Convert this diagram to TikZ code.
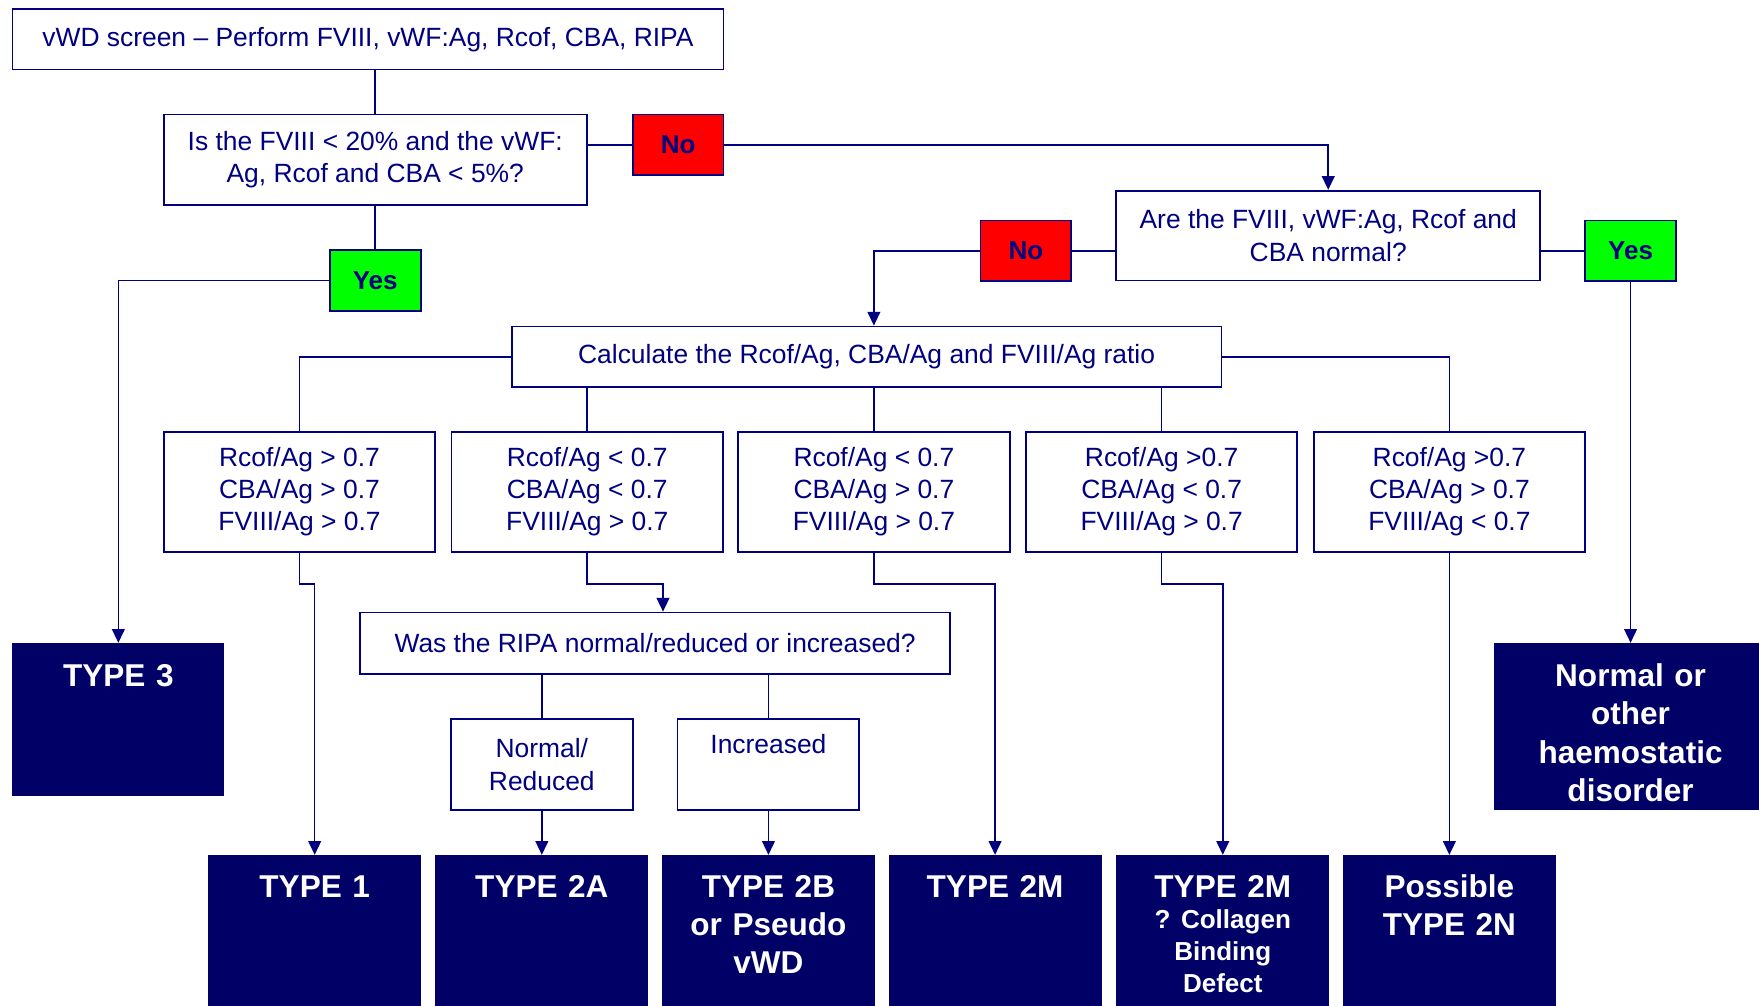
\documentclass[tikz,border=0pt]{standalone}
\usepackage{fontspec}
\setmainfont{Liberation Sans}
\usepackage{tikz}
\usetikzlibrary{arrows.meta}

\definecolor{vwdnavy}{RGB}{0,0,128}
\definecolor{vwddark}{RGB}{0,0,102}
\definecolor{vwdred}{RGB}{255,0,0}
\definecolor{vwdgreen}{RGB}{0,255,0}

\begin{document}
\begin{tikzpicture}[x=0.02cm, y=-0.02cm,
  box/.style={draw=vwdnavy, line width=0.9pt, fill=white, text=vwdnavy, align=center, inner sep=0pt, font=\fontsize{13.4}{16.3}\selectfont},
  answer/.style={draw=vwdnavy, line width=0.9pt, text=vwdnavy, minimum width=1.62cm, minimum height=1.08cm, inner sep=0pt, font=\fontsize{13.2}{16}\selectfont\bfseries},
  nobox/.style={answer, fill=vwdred},
  yesbox/.style={answer, fill=vwdgreen},
  ratio/.style={box, minimum width=4.84cm, minimum height=2.14cm},
  result/.style={fill=vwddark, text=white, anchor=north, align=center, inner sep=0pt, text width=3.8cm, text height=0.76cm, text depth=2.2cm, font=\fontsize{16}{19.3}\selectfont\bfseries},
  link/.style={draw=vwdnavy, line width=0.8pt},
  flow/.style={link, -{Triangle[length=7pt,width=6.5pt]}}
]

\useasboundingbox (0,0) rectangle (1568,896);
\clip (0,0) rectangle (1568,896);


% screen and first question
\node[box, minimum width=12.68cm, minimum height=1.08cm] (screen) at (328,35) {vWD screen – Perform FVIII, vWF:Ag, Rcof, CBA, RIPA};
\node[box, minimum width=7.54cm, minimum height=1.62cm] (q1) at (334.5,142.5) {Is the FVIII < 20\% and the vWF:\\Ag, Rcof and CBA < 5\%?};
\node[nobox] (no1) at (604.5,129) {No};
\node[yesbox] (yes1) at (334.5,250) {Yes};

\draw[link] (q1.north) -- (q1.north |- screen.south);
\draw[link] (q1.east |- no1) -- (no1);
\draw[link] (q1) -- (yes1);


% second question
\node[box, minimum width=7.56cm, minimum height=1.6cm] (q2) at (1184,210) {Are the FVIII, vWF:Ag, Rcof and\\CBA normal?};
\node[nobox] (no2) at (914.5,223.5) {No};
\node[yesbox] (yes2) at (1453.5,223.5) {Yes};

\draw[flow] (no1) -| (q2);
\draw[link] (q2.west |- no2) -- (no2);
\draw[link] (q2.east |- yes2) -- (yes2);


% ratios
\node[box, minimum width=12.66cm, minimum height=1.08cm] (calc) at (772.5,318) {Calculate the Rcof/Ag, CBA/Ag and FVIII/Ag ratio};

\node[ratio] (ratio1) at (267,438.5) {Rcof/Ag > 0.7\\CBA/Ag > 0.7\\FVIII/Ag > 0.7};
\node[ratio] (ratio2) at (523.5,438.5) {Rcof/Ag < 0.7\\CBA/Ag < 0.7\\FVIII/Ag > 0.7};
\node[ratio] (ratio3) at (779,438.5) {Rcof/Ag < 0.7\\CBA/Ag > 0.7\\FVIII/Ag > 0.7};
\node[ratio] (ratio4) at (1035.5,438.5) {Rcof/Ag >0.7\\CBA/Ag < 0.7\\FVIII/Ag > 0.7};
\node[ratio] (ratio5) at (1292,438.5) {Rcof/Ag >0.7\\CBA/Ag > 0.7\\FVIII/Ag < 0.7};

\draw[flow] (no2.west) -| (ratio3.north |- calc.north);
\draw[link] (calc.west) -| (ratio1);
\draw[link] (ratio2.north |- calc.south) -- (ratio2);
\draw[link] (ratio3.north |- calc.south) -- (ratio3);
\draw[link] (ratio4.north |- calc.south) -- (ratio4);
\draw[link] (calc.east) -| (ratio5);


% RIPA
\node[box, minimum width=10.52cm, minimum height=1.1cm] (ripa) at (584,573.5) {Was the RIPA normal/reduced or increased?};
\node[box, minimum width=3.24cm, minimum height=1.62cm] (reduced) at (483,681.5) {Normal/\\Reduced};
\node[box, minimum width=3.24cm, minimum height=1.62cm] (increased) at (685,681.5) {Increased\\\strut};

\draw[flow] (ratio2.south) -- ++(0,28) -| ([xshift=0.14cm]ripa.north);
\draw[link] (reduced.north |- ripa.south) -- (reduced);
\draw[link] (increased.north |- ripa.south) -- (increased);


% types
\node[result, text width=3.78cm, text height=0.78cm, text depth=1.94cm] (type3) at (105.5,573) {TYPE 3};
\node[result, text width=4.88cm, text height=0.78cm, text depth=2.2cm] (normal) at (1453.5,573) {Normal or\\other\\haemostatic\\disorder};

\node[result] (type1) at (280.5,762) {TYPE 1};
\node[result] (type2a) at (483,762) {TYPE 2A};
\node[result] (type2b) at (685,762) {TYPE 2B\\or Pseudo\\vWD};
\node[result] (type2m) at (887,762) {TYPE 2M};
\node[result] (type2mc) at (1090,762) {TYPE 2M\\[-1pt]{\fontsize{13.2}{16.4}\selectfont ?\ Collagen\\Binding\\Defect\par}};
\node[result] (type2n) at (1292,762) {Possible\\TYPE 2N};

\draw[flow] (yes1) -| (type3);
\draw[flow] (yes2) -- (normal);
\draw[flow] (ratio1.south) -- ++(0,28) -| (type1.north);
\draw[flow] (reduced) -- (type2a);
\draw[flow] (increased) -- (type2b);
\draw[flow] (ratio3.south) -- ++(0,28) -| (type2m.north);
\draw[flow] (ratio4.south) -- ++(0,28) -| (type2mc.north);
\draw[flow] (ratio5) -- (type2n);


\end{tikzpicture}
\end{document}
